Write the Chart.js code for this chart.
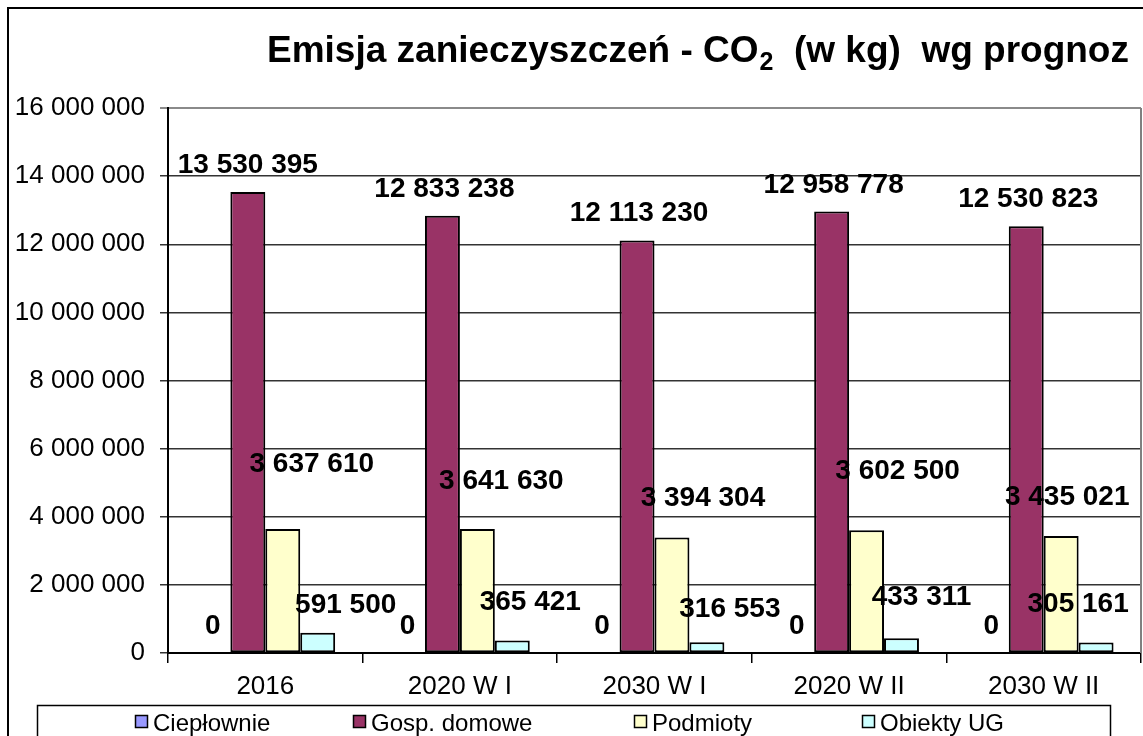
<!DOCTYPE html>
<html>
<head>
<meta charset="utf-8">
<script src="https://cdn.jsdelivr.net/npm/chart.js@4/dist/chart.umd.min.js"></script>
<style>
html,body{margin:0;padding:0;background:#fff;}
#wrap{width:1143px;height:736px;position:relative;}
</style>
</head>
<body>
<div id="wrap"><canvas id="c"></canvas></div>
<script>
// ---- data ----
const categories = ['2016', '2020 W I', '2030 W I', '2020 W II', '2030 W II'];
const seriesNames = ['Ciepłownie', 'Gosp. domowe', 'Podmioty', 'Obiekty UG'];
const cieplownie = [0, 0, 0, 0, 0];
const gospDomowe = [13530395, 12833238, 12113230, 12958778, 12530823];
const podmioty = [3637610, 3641630, 3394304, 3602500, 3435021];
const obiektyUG = [591500, 365421, 316553, 433311, 305161];
const yTickValues = [0, 2000000, 4000000, 6000000, 8000000, 10000000, 12000000, 14000000, 16000000];
const titleMain = 'Emisja zanieczyszczeń - CO';
const titleSub = '2';
const titleRest = '  (w kg)  wg prognoz';

// ---- styles / placement (kept apart from data) ----
const FONT = '"Liberation Sans", Arial, sans-serif';
const seriesColors = ['#9999FF', '#993366', '#FFFFCC', '#CCFFFF'];
// label nudges [dx, dy] relative to default spot above each bar
const labelNudge = [
  [[0,0],[0,0],[0,0],[0,0],[0,0]],
  [[0,0],[2,0],[2,0],[2,0],[2,0]],
  [[29,-38],[24,-21],[31,-12],[31,-32],[6,-12]],
  [[28,-1],[18,-12],[23,-6],[20,-14],[-18,-12]]
];
const legendX = [135, 353, 634, 862];

function fmt(v) {
  return String(Math.round(v)).replace(/\B(?=(\d{3})+(?!\d))/g, ' ');
}

const seriesData = [cieplownie, gospDomowe, podmioty, obiektyUG];

const framePlugin = {
  id: 'frame',
  beforeDraw(chart) {
    const ctx = chart.ctx;
    ctx.save();
    ctx.fillStyle = '#fff';
    ctx.fillRect(0, 0, chart.width, chart.height);
    ctx.strokeStyle = '#000';
    ctx.lineWidth = 2;
    ctx.beginPath();
    ctx.moveTo(8, chart.height + 2);
    ctx.lineTo(8, 8);
    ctx.lineTo(chart.width + 2, 8);
    ctx.stroke();
    ctx.restore();
  },
  afterDraw(chart) {
    const ctx = chart.ctx;
    const a = chart.chartArea;
    ctx.save();
    // plot area right border
    ctx.strokeStyle = '#808080';
    ctx.lineWidth = 2;
    ctx.beginPath();
    ctx.moveTo(a.right, a.top);
    ctx.lineTo(a.right, a.bottom);
    ctx.stroke();
    // title
    ctx.fillStyle = '#000';
    ctx.textBaseline = 'alphabetic';
    ctx.textAlign = 'left';
    let x = 267, y = 62;
    ctx.font = 'bold 37px ' + FONT;
    ctx.fillText(titleMain, x, y);
    x += ctx.measureText(titleMain).width;
    ctx.font = 'bold 25px ' + FONT;
    ctx.fillText(titleSub, x + 1, y + 8);
    x += ctx.measureText(titleSub).width + 1;
    ctx.font = 'bold 37px ' + FONT;
    ctx.fillText(titleRest, x, y);
    // legend
    ctx.strokeStyle = '#000';
    ctx.lineWidth = 1.5;
    ctx.strokeRect(37.5, 705.5, 1073, 40);
    ctx.font = '24px ' + FONT;
    chart.data.datasets.forEach((ds, i) => {
      const lx = legendX[i];
      ctx.fillStyle = ds.backgroundColor;
      ctx.fillRect(lx, 715, 12, 12);
      ctx.lineWidth = 1.5;
      ctx.strokeStyle = '#000';
      ctx.strokeRect(lx + 0.5, 715.5, 12, 12);
      ctx.fillStyle = '#000';
      ctx.fillText(ds.label, lx + 18, 731);
    });
    ctx.restore();
  },
  afterDatasetsDraw(chart) {
    const ctx = chart.ctx;
    ctx.save();
    ctx.font = 'bold 28px ' + FONT;
    ctx.fillStyle = '#000';
    ctx.textAlign = 'center';
    ctx.textBaseline = 'alphabetic';
    chart.data.datasets.forEach((ds, di) => {
      const meta = chart.getDatasetMeta(di);
      meta.data.forEach((bar, i) => {
        const n = labelNudge[di][i];
        ctx.fillText(fmt(ds.data[i]), bar.x + n[0], bar.y - 19 + n[1]);
      });
    });
    ctx.restore();
  }
};

new Chart(document.getElementById('c'), {
  type: 'bar',
  data: {
    labels: categories,
    datasets: seriesNames.map((name, i) => ({
      label: name,
      data: seriesData[i],
      backgroundColor: seriesColors[i],
      borderColor: '#000',
      borderWidth: 2,
      borderSkipped: false,
      categoryPercentage: 0.718,
      barPercentage: 1
    }))
  },
  options: {
    responsive: true,
    maintainAspectRatio: false,
    animation: false,
    layout: { padding: { left: 0, right: 2, top: 108, bottom: 33 } },
    plugins: {
      legend: { display: false },
      title: { display: false },
      tooltip: { enabled: false }
    },
    scales: {
      x: {
        offset: true,
        grid: { offset: true, drawOnChartArea: false, drawTicks: true, tickLength: 10, color: '#000', lineWidth: 1.5 },
        border: { color: '#000', width: 2 },
        ticks: { color: '#000', font: { family: FONT, size: 26 }, padding: 8, maxRotation: 0, autoSkip: false },
        afterFit(s) { s.height = 50; }
      },
      y: {
        min: 0,
        max: 16000000,
        afterBuildTicks(s) { s.ticks = yTickValues.map(v => ({ value: v })); },
        grid: {
          color: c => (c.tick && c.tick.value === 16000000 ? '#8a8a8a' : '#333'),
          lineWidth: c => (c.tick && c.tick.value === 16000000 ? 2 : 1.5),
          tickLength: 8,
          drawTicks: true
        },
        border: { color: '#000', width: 2 },
        ticks: { color: '#000', font: { family: FONT, size: 26 }, padding: 15, callback: v => fmt(v) },
        afterFit(s) { s.width = 168; }
      }
    }
  },
  plugins: [framePlugin]
});
</script>
</body>
</html>
